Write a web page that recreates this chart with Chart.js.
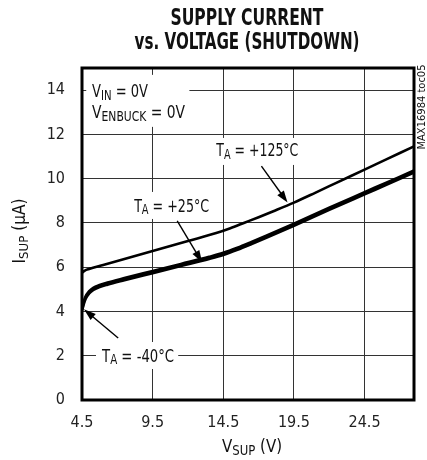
<!DOCTYPE html>
<html><head><meta charset="utf-8">
<script src="https://cdn.jsdelivr.net/npm/chart.js@4/dist/chart.umd.min.js"></script>
<style>html,body{margin:0;padding:0;background:#fff}#wrap{width:427px;height:460px;position:relative}</style>
</head><body><div id="wrap"><canvas id="c" width="427" height="460"></canvas></div>
<script>
const FONT = "'Liberation Sans Narrow','Arial Narrow','DejaVu Sans Condensed',sans-serif";
const titleLines = ["SUPPLY CURRENT", "vs. VOLTAGE (SHUTDOWN)"];
const xTicks = [4.5, 9.5, 14.5, 19.5, 24.5];
const yTicks = [0, 2, 4, 6, 8, 10, 12, 14];

// TA = +125°C
const v125 = [4.5, 4.7, 5.0, 6.0, 8.0, 10.0, 12.0, 14.0, 15.0, 16.0, 17.0, 18.0, 19.5, 21.0, 22.5, 24.5, 26.0, 28.0];
const i125 = [5.75, 5.85, 5.92, 6.1, 6.46, 6.82, 7.18, 7.54, 7.76, 8.01, 8.26, 8.52, 8.92, 9.36, 9.81, 10.41, 10.86, 11.46];
// TA = -40°C
const vM40 = [4.5, 4.6, 4.75, 5.0, 5.3, 5.7, 6.3, 7.5, 9.5, 11.5, 13.5, 14.5, 15.5, 16.5, 17.5, 19.5, 22.0, 24.5, 26.0, 28.0];
const iM40 = [4.05, 4.3, 4.58, 4.82, 4.98, 5.1, 5.22, 5.42, 5.74, 6.06, 6.38, 6.56, 6.79, 7.05, 7.32, 7.88, 8.6, 9.3, 9.72, 10.28];
// TA = +25°C
const v25 = [4.5, 4.6, 4.75, 5.0, 5.3, 5.7, 6.3, 7.5, 9.5, 11.5, 13.5, 14.5, 15.5, 16.5, 17.5, 19.5, 22.0, 24.5, 26.0, 28.0];
const i25 = [4.1, 4.38, 4.66, 4.9, 5.06, 5.18, 5.3, 5.5, 5.82, 6.14, 6.46, 6.64, 6.87, 7.13, 7.4, 7.96, 8.68, 9.38, 9.8, 10.36];

const pts = (xs, ys) => xs.map((v, k) => ({ x: v, y: ys[k] }));

// draws text with subscripts; if tw is given the run is squeezed horizontally to that width
function rich(ctx, x, y, parts, size, align, weight, tw, subScale) {
  const w0 = weight ? weight + ' ' : '';
  const ss = subScale || 0.78;
  const main = w0 + size + 'px ' + FONT, sub = w0 + Math.round(size * ss) + 'px ' + FONT;
  let w = 0;
  parts.forEach(p => { ctx.font = p[1] ? sub : main; w += ctx.measureText(p[0]).width; });
  const sx = tw ? tw / w : 1;
  ctx.save();
  ctx.translate(align === 'center' ? x - w * sx / 2 : x, y);
  ctx.scale(sx, 1);
  ctx.textAlign = 'left'; ctx.textBaseline = 'alphabetic';
  let cx = 0;
  parts.forEach(p => {
    ctx.font = p[1] ? sub : main;
    ctx.fillText(p[0], cx, p[1] ? size * 0.16 : 0);
    cx += ctx.measureText(p[0]).width;
  });
  ctx.restore();
}
function arrow(ctx, x0, y0, x1, y1) {
  const a = Math.atan2(y1 - y0, x1 - x0), L = 12, W = 4;
  ctx.beginPath(); ctx.moveTo(x0, y0);
  ctx.lineTo(x1 - L * 0.8 * Math.cos(a), y1 - L * 0.8 * Math.sin(a));
  ctx.lineWidth = 1.4; ctx.strokeStyle = '#000'; ctx.stroke();
  ctx.beginPath(); ctx.moveTo(x1, y1);
  ctx.lineTo(x1 - L * Math.cos(a) + W * Math.sin(a), y1 - L * Math.sin(a) - W * Math.cos(a));
  ctx.lineTo(x1 - L * Math.cos(a) - W * Math.sin(a), y1 - L * Math.sin(a) + W * Math.cos(a));
  ctx.closePath(); ctx.fillStyle = '#000'; ctx.fill();
}

const annot = {
  id: 'annot',
  beforeDatasetsDraw(chart) {
    const { ctx, scales: { x, y } } = chart;
    const boxes = [[4.8, 12.1, 14.69, 12.34], [14.0, 20.25, 11.84, 10.62], [8.05, 13.65, 9.4, 8.18], [5.49, 11.31, 2.62, 1.4]];
    ctx.save(); ctx.fillStyle = '#fff';
    boxes.forEach(b => {
      const x0 = x.getPixelForValue(b[0]), x1 = x.getPixelForValue(b[1]);
      const y0 = y.getPixelForValue(b[2]), y1 = y.getPixelForValue(b[3]);
      ctx.fillRect(x0, y0, x1 - x0, y1 - y0);
    });
    ctx.restore();
  },
  afterDatasetsDraw(chart) {
    const { ctx, chartArea: ca, scales: { x, y } } = chart;
    const X = v => x.getPixelForValue(v), Y = v => y.getPixelForValue(v);
    ctx.save();
    ctx.fillStyle = '#111';
    rich(ctx, X(5.21), Y(14.0) + 6.5, [['V', 0], ['IN', 1], [' = 0V', 0]], 18, 'left', '', 56);
    rich(ctx, X(5.21), Y(13.03) + 6.5, [['V', 0], ['ENBUCK', 1], [' = 0V', 0]], 18, 'left', '', 93);
    rich(ctx, X(14.01), Y(11.3) + 6.5, [['T', 0], ['A', 1], [' = +125°C', 0]], 18, 'left', '', 82);
    rich(ctx, X(8.19), Y(8.81) + 6.5, [['T', 0], ['A', 1], [' = +25°C', 0]], 18, 'left', '', 75);
    rich(ctx, X(5.92), Y(2.03) + 6.5, [['T', 0], ['A', 1], [' = -40°C', 0]], 18, 'left', '', 72);
    arrow(ctx, X(17.2), Y(10.57), X(19.05), Y(8.92));
    arrow(ctx, X(11.24), Y(8.09), X(13.0), Y(6.22));
    arrow(ctx, X(7.06), Y(2.8), X(4.64), Y(4.1));
    ctx.lineWidth = 3; ctx.strokeStyle = '#000';
    ctx.strokeRect(ca.left, ca.top, ca.right - ca.left, ca.bottom - ca.top);
    ctx.restore();
  },
  afterDraw(chart) {
    const { ctx } = chart;
    ctx.save(); ctx.fillStyle = '#111';
    rich(ctx, 247, 25, [[titleLines[0], 0]], 23, 'center', 'bold', 153);
    rich(ctx, 247, 49, [[titleLines[1], 0]], 23, 'center', 'bold', 225);
    rich(ctx, 252, 452, [['V', 0], ['SUP', 1], [' (V)', 0]], 18, 'center', '', 60);
    ctx.save(); ctx.translate(19, 231); ctx.rotate(-Math.PI / 2);
    rich(ctx, 0, 6, [['I', 0], ['SUP', 1], [' (µA)', 0]], 17, 'center', '', 65);
    ctx.restore();
    ctx.save(); ctx.translate(421, 107); ctx.rotate(-Math.PI / 2);
    rich(ctx, 0, 3.5, [['MAX16984 toc05', 0]], 11, 'center', '', 85);
    ctx.restore();
    ctx.restore();
  }
};

const tickFont = { family: FONT, size: 16 };
new Chart(document.getElementById('c'), {
  type: 'line',
  data: {
    datasets: [
      { label: 'TA = +125°C', data: pts(v125, i125), borderColor: '#000', borderWidth: 2.6 },
      { label: 'TA = +25°C', data: pts(v25, i25), borderColor: '#000', borderWidth: 3 },
      { label: 'TA = -40°C', data: pts(vM40, iM40), borderColor: '#000', borderWidth: 3 }
    ]
  },
  options: {
    responsive: false, animation: false, devicePixelRatio: 1,
    layout: { padding: { top: 68, right: 13, left: 0, bottom: 0 } },
    elements: { point: { radius: 0 }, line: { cubicInterpolationMode: 'monotone', fill: false } },
    plugins: { legend: { display: false }, title: { display: false }, tooltip: { enabled: false } },
    scales: {
      x: {
        type: 'linear', min: 4.5, max: 28,
        afterBuildTicks: s => { s.ticks = xTicks.map(v => ({ value: v })); },
        afterFit: s => { s.height = 60; },
        ticks: { font: tickFont, color: '#222', padding: 13, maxRotation: 0, autoSkip: false, callback: v => v.toFixed(1) },
        grid: { color: '#333', lineWidth: 1, drawTicks: false },
        border: { display: false }
      },
      y: {
        type: 'linear', min: 0, max: 15,
        afterBuildTicks: s => { s.ticks = yTicks.map(v => ({ value: v })); },
        afterFit: s => { s.width = 82; },
        ticks: { font: tickFont, color: '#222', padding: 17, autoSkip: false, callback: v => String(v) },
        grid: { color: '#333', lineWidth: 1, drawTicks: false },
        border: { display: false }
      }
    }
  },
  plugins: [annot]
});
</script></body></html>
